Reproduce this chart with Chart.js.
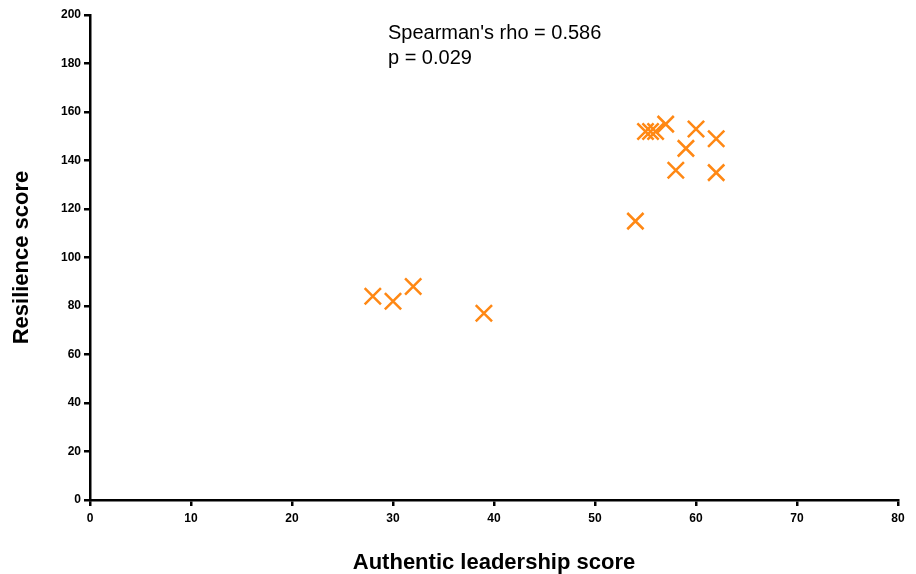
<!DOCTYPE html>
<html>
<head>
<meta charset="utf-8">
<script src="https://cdn.jsdelivr.net/npm/chart.js@4/dist/chart.umd.min.js"></script>
<style>
  html, body { margin: 0; padding: 0; background: #fff; }
  #chart { display: block; }
</style>
</head>
<body>
<canvas id="chart" width="916" height="574"></canvas>
<script>
const leadershipScores = [28, 30, 32, 39, 54, 55, 55.5, 56, 57, 58, 59, 60, 62, 62];
const resilienceScores = [84, 82, 88, 77, 115, 152, 152, 152, 155, 136, 145, 153, 149, 135];

const xTitle = "Authentic leadership score";
const yTitle = "Resilience score";
const statLines = ["Spearman's rho = 0.586", "p = 0.029"];

const MARKER_COLOR = "rgb(255, 136, 20)";
const AXIS_FONT = "'Liberation Sans', Arial, Helvetica, sans-serif";

const points = leadershipScores.map((x, i) => ({ x: x, y: resilienceScores[i] }));

// stats text, anchored in data units
const statsLabel = {
  id: "statsLabel",
  afterDraw(chart) {
    const { ctx, scales } = chart;
    const x = scales.x.getPixelForValue(29.5);
    const y = scales.y.getPixelForValue(192.3);
    ctx.save();
    ctx.fillStyle = "#000";
    ctx.font = "20px " + AXIS_FONT;
    ctx.textAlign = "left";
    ctx.textBaseline = "middle";
    statLines.forEach((line, i) => ctx.fillText(line, x, y + i * 25));
    ctx.restore();
  },
};

const tickFont = { family: AXIS_FONT, size: 12, weight: "bold" };
const titleFont = { family: AXIS_FONT, size: 22, weight: "bold" };

new Chart(document.getElementById("chart"), {
  type: "scatter",
  data: {
    datasets: [
      {
        data: points,
        pointStyle: "crossRot",
        pointRadius: 11.5,
        pointHoverRadius: 11.5,
        pointBorderWidth: 2.5,
        borderColor: MARKER_COLOR,
        backgroundColor: MARKER_COLOR,
      },
    ],
  },
  options: {
    responsive: false,
    animation: false,
    devicePixelRatio: 1,
    layout: { padding: { top: 15, right: 18, left: 0, bottom: 0 } },
    plugins: {
      legend: { display: false },
      tooltip: { enabled: false },
    },
    scales: {
      x: {
        type: "linear",
        min: 0,
        max: 80,
        offset: false,
        afterFit: (scale) => { scale.height = 74; },
        ticks: { stepSize: 10, color: "#000", font: tickFont, padding: 5, maxRotation: 0 },
        grid: { drawOnChartArea: false, drawTicks: true, tickLength: 6, color: "#000", lineWidth: 2.5 },
        border: { display: true, color: "#000", width: 2.5 },
        title: { display: true, text: xTitle, color: "#000", font: titleFont, padding: { top: 0, bottom: -2 } },
      },
      y: {
        type: "linear",
        min: 0,
        max: 200,
        offset: false,
        afterFit: (scale) => { scale.width = 90; },
        ticks: { stepSize: 20, color: "#000", font: tickFont, padding: 3 },
        grid: { drawOnChartArea: false, drawTicks: true, tickLength: 6, color: "#000", lineWidth: 2.5 },
        border: { display: true, color: "#000", width: 2.5 },
        title: { display: true, text: yTitle, color: "#000", font: titleFont, padding: { top: 9, bottom: 0 } },
      },
    },
  },
  plugins: [statsLabel],
});
</script>
</body>
</html>
